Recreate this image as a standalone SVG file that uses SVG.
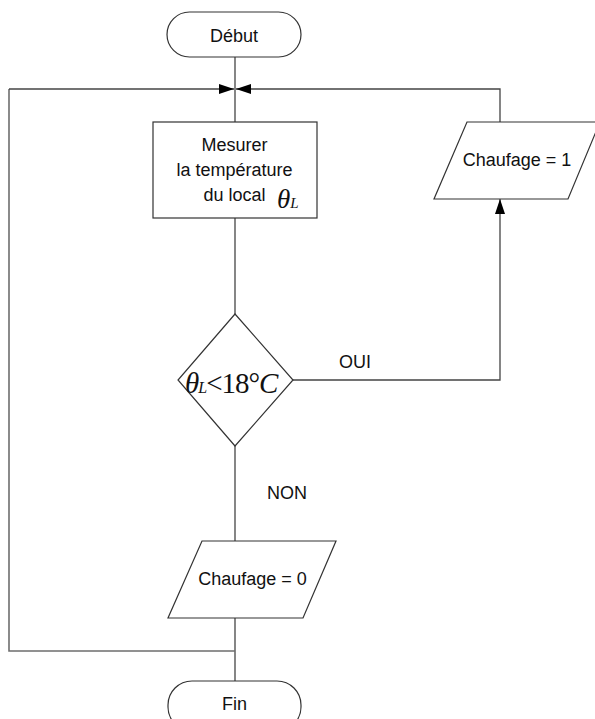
<svg xmlns="http://www.w3.org/2000/svg" width="595" height="719" viewBox="0 0 595 719">
  <style>
    .shape { fill: #ffffff; stroke: #333333; stroke-width: 1.2; }
    .wire { fill: none; stroke: #444444; stroke-width: 1.3; }
    .loop { fill: none; stroke: #6e6e6e; stroke-width: 1.6; }
    .lbl { font-family: "Liberation Sans", Arial, sans-serif; font-size: 18px; fill: #111111; }
    .math { font-family: "Liberation Serif", "Times New Roman", serif; fill: #111111; }
  </style>
  <defs>
    <marker id="arrow" viewBox="0 0 15 10" refX="15" refY="5" markerWidth="15" markerHeight="10" markerUnits="userSpaceOnUse" orient="auto">
      <path d="M0,0 L15,5 L0,10 Z" fill="#000000"/>
    </marker>
  </defs>

  <!-- connectors -->
  <g id="connectors">
    <!-- start to measurement -->
    <line class="wire" x1="235" y1="57" x2="235" y2="122"/>
    <!-- measurement to test -->
    <line class="wire" x1="235" y1="218" x2="235" y2="314"/>
    <!-- test NON branch -->
    <line class="wire" x1="235" y1="446" x2="235" y2="541"/>
    <!-- heating off to end -->
    <line class="wire" x1="235" y1="618" x2="235" y2="681"/>
    <!-- return loop on the left -->
    <polyline class="loop" points="235,651 9,651 9,89"/>
    <line class="wire" x1="9" y1="89" x2="234" y2="89" marker-end="url(#arrow)"/>
    <!-- OUI branch up to heating on -->
    <polyline class="wire" points="293,380 500,380 500,199" marker-end="url(#arrow)"/>
    <!-- heating on back to the loop -->
    <polyline class="wire" points="500,122 500,89 236,89" marker-end="url(#arrow)"/>
    <text class="lbl" x="355" y="368" text-anchor="middle">OUI</text>
    <text class="lbl" x="287" y="499" text-anchor="middle">NON</text>
  </g>

  <g id="start">
    <rect class="shape" x="167" y="12" width="134" height="45" rx="22.5" ry="22.5"/>
    <text class="lbl" x="234" y="42" text-anchor="middle">Début</text>
  </g>

  <g id="measure">
    <rect class="shape" x="153" y="122" width="164" height="96"/>
    <text class="lbl" x="234.5" y="151" text-anchor="middle">Mesurer</text>
    <text class="lbl" x="234.5" y="176" text-anchor="middle">la température</text>
    <text class="lbl" x="234.5" y="201" text-anchor="middle">du local</text>
    <text class="math" x="277" y="208" font-size="27" font-style="italic">θ<tspan font-size="15">L</tspan></text>
  </g>

  <g id="test">
    <polygon class="shape" points="235,314 293,380 235,446 178,380"/>
    <text class="math" x="185" y="393" font-size="29" letter-spacing="-1"><tspan font-style="italic">θ</tspan><tspan font-style="italic" font-size="16">L</tspan>&lt;18°<tspan font-style="italic">C</tspan></text>
  </g>

  <g id="heat-on">
    <polygon class="shape" points="467,122 600,122 568,199 434,199"/>
    <text class="lbl" x="517" y="166" text-anchor="middle">Chaufage = 1</text>
  </g>

  <g id="heat-off">
    <polygon class="shape" points="202,541 336,541 303,618 168,618"/>
    <text class="lbl" x="252.5" y="585" text-anchor="middle">Chaufage = 0</text>
  </g>

  <g id="end">
    <rect class="shape" x="168" y="681" width="133" height="50" rx="24" ry="24"/>
    <text class="lbl" x="234.5" y="710" text-anchor="middle">Fin</text>
  </g>
</svg>
